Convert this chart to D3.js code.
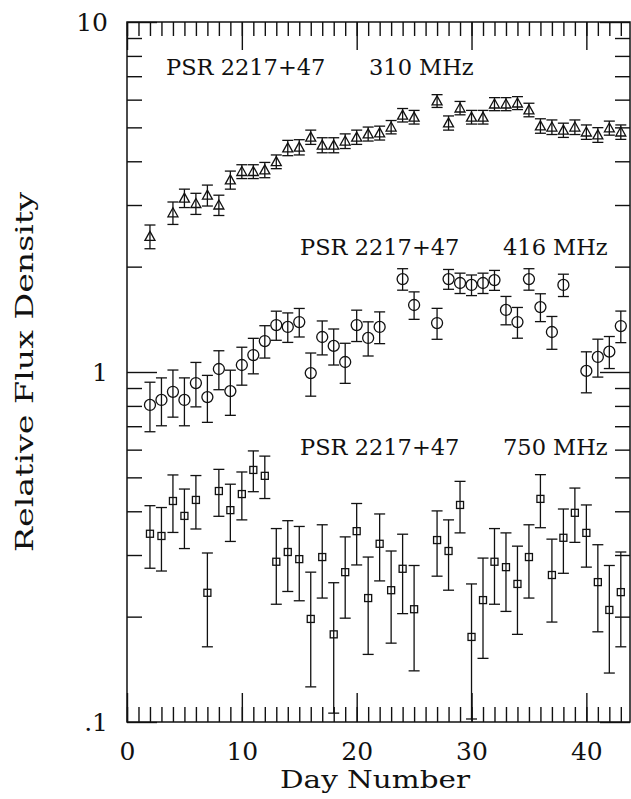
<!DOCTYPE html>
<html>
<head>
<meta charset="utf-8">
<script src="https://cdn.jsdelivr.net/npm/d3@7"></script>
<style>
  body { margin: 0; background: #fff; }
  svg { display: block; }
  text { font-family: "DejaVu Serif", serif; fill: #111; }
</style>
</head>
<body>
<script>
// day numbers and flux values (relative) for each frequency, with +/- errors
var days310 = [2,4,5,6,7,8,9,10,11,12,13,14,15,16,17,18,19,20,21,22,23,24,25,27,28,29,30,31,32,33,34,35,36,37,38,39,40,41,42,43];
var flux310 = [2.44,2.85,3.14,3.03,3.20,3.00,3.54,3.74,3.74,3.78,3.99,4.37,4.39,4.69,4.45,4.45,4.57,4.69,4.79,4.82,5.01,5.42,5.35,5.95,5.15,5.68,5.35,5.35,5.83,5.83,5.87,5.61,5.05,5.01,4.91,5.01,4.85,4.76,4.98,4.85];
var err310  = [0.19,0.21,0.19,0.21,0.22,0.20,0.21,0.17,0.17,0.19,0.18,0.22,0.22,0.22,0.22,0.22,0.22,0.22,0.22,0.22,0.22,0.24,0.24,0.25,0.24,0.25,0.24,0.24,0.25,0.25,0.25,0.25,0.24,0.24,0.23,0.24,0.23,0.23,0.23,0.23];

var days416 = [2,3,4,5,6,7,8,9,10,11,12,13,14,15,16,17,18,19,20,21,22,24,25,27,28,29,30,31,32,33,34,35,36,37,38,40,41,42,43];
var flux416 = [0.805,0.832,0.878,0.832,0.930,0.848,1.02,0.882,1.047,1.118,1.226,1.362,1.345,1.389,0.993,1.259,1.187,1.068,1.362,1.251,1.345,1.843,1.554,1.38,1.843,1.796,1.773,1.796,1.831,1.504,1.389,1.843,1.533,1.301,1.773,1.007,1.104,1.143,1.353];
var err416  = [0.13,0.13,0.135,0.13,0.135,0.13,0.13,0.13,0.13,0.13,0.13,0.13,0.13,0.13,0.14,0.14,0.14,0.14,0.14,0.14,0.14,0.13,0.14,0.14,0.12,0.12,0.12,0.12,0.12,0.14,0.14,0.13,0.14,0.14,0.13,0.135,0.137,0.12,0.14];

var days750 = [2,3,4,5,6,7,8,9,10,11,12,13,14,15,16,17,18,19,20,21,22,23,24,25,27,28,29,30,31,32,33,34,35,36,37,38,39,40,41,42,43];
var flux750 = [0.345,0.340,0.428,0.388,0.431,0.234,0.457,0.403,0.448,0.525,0.505,0.287,0.306,0.292,0.197,0.296,0.178,0.268,0.351,0.226,0.323,0.238,0.274,0.210,0.331,0.308,0.417,0.175,0.223,0.287,0.277,0.248,0.296,0.434,0.263,0.336,0.396,0.347,0.251,0.209,0.235];
var err750  = [0.07,0.07,0.08,0.075,0.075,0.07,0.07,0.075,0.07,0.07,0.07,0.07,0.07,0.07,0.071,0.07,0.072,0.07,0.07,0.07,0.07,0.07,0.07,0.07,0.07,0.07,0.07,0.073,0.071,0.07,0.07,0.07,0.07,0.075,0.07,0.07,0.07,0.07,0.07,0.071,0.071];

var majorX = [0,10,20,30,40];
var majorY = [0.1,1,10];
var yLabels = {0.1: '.1', 1: '1', 10: '10'};
var titles = [
    {psr: 'PSR 2217+47', freq: '310 MHz', x: 166, y: 75},
    {psr: 'PSR 2217+47', freq: '416 MHz', x: 300, y: 255},
    {psr: 'PSR 2217+47', freq: '750 MHz', x: 300, y: 455}
];

var W = 631, H = 799,
    pLeft = 127, pRight = 630, pTop = 22, pBottom = 722;

var svg = d3.select('body').append('svg').attr('width', W).attr('height', H);

var x = d3.scaleLinear().domain([0, 43.8]).range([pLeft, pRight]);
var y = d3.scaleLog().domain([0.1, 10]).range([pBottom, pTop]);

var minorX = d3.range(0, 44);
var minorY = [];
[0.1, 1].forEach(function(d) {
    for (var k = 2; k <= 9; k++) minorY.push(d * k);
});

function drawAxis(gen, tx, ty, vals, size, fmt, pad) {
    var g = svg.append('g').attr('transform', 'translate(' + tx + ',' + ty + ')')
        .call(gen.tickValues(vals).tickSize(size).tickPadding(pad || 0).tickFormat(fmt || function() { return ''; }));
    g.select('.domain').remove();
    g.selectAll('line').attr('stroke', '#111').attr('stroke-width', 1.4);
    g.selectAll('text').style('font-family', '"DejaVu Serif", serif').style('font-size', '25px').attr('fill', '#111');
    return g;
}

// bottom / top
drawAxis(d3.axisBottom(x), 0, pBottom, minorX, -15);
drawAxis(d3.axisBottom(x), 0, pBottom, majorX, -29, d3.format('d'), 20);
drawAxis(d3.axisTop(x), 0, pTop, minorX, -14);
drawAxis(d3.axisTop(x), 0, pTop, majorX, -28);
// left / right
drawAxis(d3.axisLeft(y), pLeft, 0, minorY, -15);
drawAxis(d3.axisLeft(y), pLeft, 0, majorY, -30, function(d) { return yLabels[d]; }, 19);
drawAxis(d3.axisRight(y), pRight, 0, minorY, -15);
drawAxis(d3.axisRight(y), pRight, 0, majorY, -30);

svg.append('rect')
    .attr('x', pLeft).attr('y', pTop)
    .attr('width', pRight - pLeft).attr('height', pBottom - pTop)
    .attr('fill', 'none').attr('stroke', '#111').attr('stroke-width', 1.5);

function series(days, flux, err, shape) {
    var g = svg.append('g').attr('stroke', '#111').attr('stroke-width', 1.3).attr('fill', 'none');
    var pts = days.map(function(d, i) { return {day: d, v: flux[i], e: err[i]}; });
    var p = g.selectAll('g').data(pts).enter().append('g');
    p.append('line')
        .attr('x1', function(d) { return x(d.day); }).attr('x2', function(d) { return x(d.day); })
        .attr('y1', function(d) { return y(d.v + d.e); })
        .attr('y2', function(d) { return y(Math.max(d.v - d.e, 0.1)); });
    p.append('line')
        .attr('x1', function(d) { return x(d.day) - 5.5; }).attr('x2', function(d) { return x(d.day) + 5.5; })
        .attr('y1', function(d) { return y(d.v + d.e); }).attr('y2', function(d) { return y(d.v + d.e); });
    p.append('line')
        .attr('x1', function(d) { return x(d.day) - 5.5; }).attr('x2', function(d) { return x(d.day) + 5.5; })
        .attr('y1', function(d) { return y(Math.max(d.v - d.e, 0.1)); })
        .attr('y2', function(d) { return y(Math.max(d.v - d.e, 0.1)); });
    if (shape === 'tri') {
        p.append('path').attr('d', function(d) {
            var cx = x(d.day), cy = y(d.v);
            return 'M' + (cx - 5) + ',' + (cy + 4) + 'L' + cx + ',' + (cy - 5) + 'L' + (cx + 5) + ',' + (cy + 4) + 'Z';
        });
    } else if (shape === 'circ') {
        p.append('circle').attr('cx', function(d) { return x(d.day); }).attr('cy', function(d) { return y(d.v); }).attr('r', 5.5);
    } else {
        p.append('rect').attr('x', function(d) { return x(d.day) - 3.5; }).attr('y', function(d) { return y(d.v) - 3.5; })
            .attr('width', 7).attr('height', 7);
    }
}

series(days310, flux310, err310, 'tri');
series(days416, flux416, err416, 'circ');
series(days750, flux750, err750, 'sq');

titles.forEach(function(t) {
    svg.append('text').attr('x', t.x).attr('y', t.y).style('font-size', '22.5px').text(t.psr);
    svg.append('text').attr('x', t.x + 203).attr('y', t.y).style('font-size', '22.5px').text(t.freq);
});

svg.append('text')
    .attr('x', 375).attr('y', 788)
    .attr('text-anchor', 'middle')
    .attr('textLength', 190).attr('lengthAdjust', 'spacingAndGlyphs')
    .style('font-size', '24px').text('Day Number');

svg.append('text')
    .attr('transform', 'translate(33,372) rotate(-90)')
    .attr('text-anchor', 'middle')
    .attr('textLength', 360).attr('lengthAdjust', 'spacingAndGlyphs')
    .style('font-size', '24px').text('Relative Flux Density');
</script>
</body>
</html>
